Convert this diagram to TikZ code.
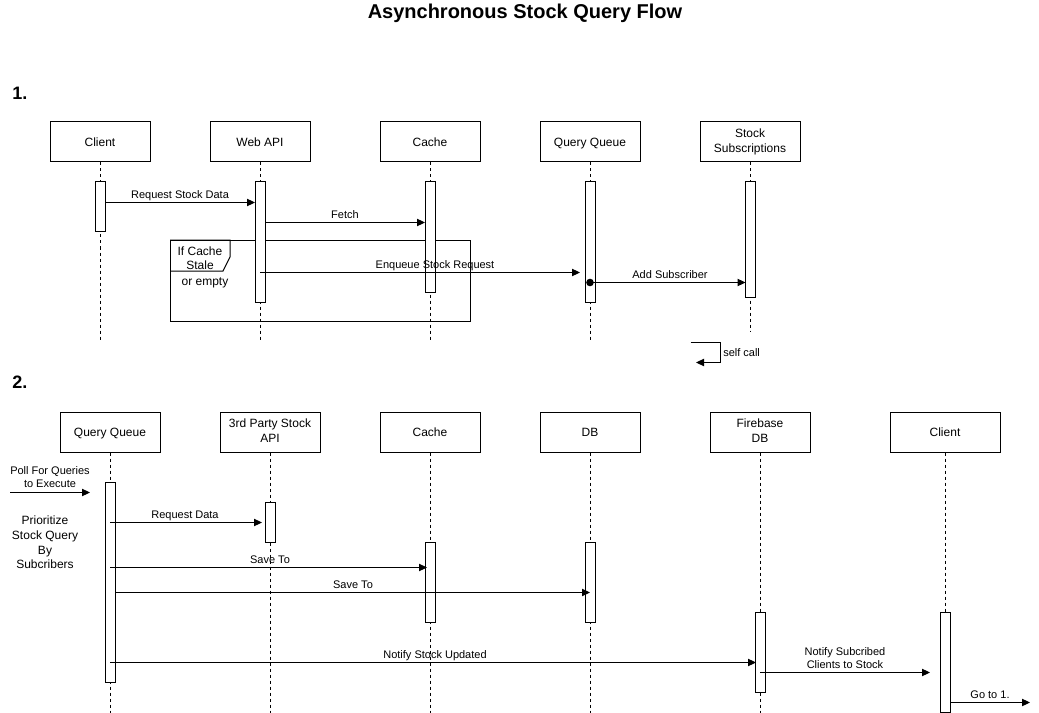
\documentclass[tikz,border=0pt]{standalone}
\usepackage{fontspec}
\setmainfont{Liberation Sans}
\usetikzlibrary{arrows.meta}
\tikzset{
  part/.style={draw, line width=0.75pt, fill=white, minimum width=75pt, minimum height=30pt, inner sep=0pt, align=center, font=\fontsize{9}{11}\selectfont},
  act/.style={draw, line width=0.75pt, fill=white, minimum width=7.5pt, inner sep=0pt},
  life/.style={line width=0.75pt, dash pattern=on 2.25pt off 2.25pt},
  msg/.style={line width=0.75pt, -{Triangle[length=6pt,width=5.5pt]}},
  lbl/.style={font=\fontsize{8.25}{9.75}\selectfont, align=center, inner sep=0pt},
  sl/.style={text height=0.905em, text depth=0.212em},
  ml/.style={yshift=-0.9pt},
  heading/.style={font=\fontsize{13.5}{16}\selectfont\bfseries, inner sep=0pt},
  frm/.style={line width=0.75pt}
}
\begin{document}
\begin{tikzpicture}[x=0.75pt,y=-0.75pt]
\path[use as bounding box, fill=white] (0,0) rectangle (1039,713);

\node[font=\fontsize{15}{18}\selectfont\bfseries, inner sep=0pt, sl] (title) at (525,13.5) {Asynchronous Stock Query Flow};
\node[heading, anchor=west] (h1) at (12,93) {1.};
\node[heading, anchor=west] (h2) at (12,382.5) {2.};

% ---------- Part 1 ----------
\node[part, sl] (aclient) at (100,142) {Client};
\node[part, sl] (aweb) at (260,142) {Web API};
\node[part, sl] (acache) at (430,142) {Cache};
\node[part, sl] (aqueue) at (590,142) {Query Queue};
\node[part] (asubs) at (750,142) {\vphantom{Stpj}Stock\\Subscriptions};

\coordinate (aclientE) at (100,340);
\coordinate (awebE) at (260,340);
\coordinate (acacheE) at (430,340);
\coordinate (aqueueE) at (590,340);
\coordinate (asubsE) at (750,332);
\draw[life] (aclient.south) -- (aclientE);
\draw[life] (aweb.south) -- (awebE);
\draw[life] (acache.south) -- (acacheE);
\draw[life] (aqueue.south) -- (aqueueE);
\draw[life] (asubs.south) -- (asubsE);

% frame
\draw[frm] (170,240) rectangle (470,321);
\draw[frm] (170,240) -- (230,240) -- (230,257) -- (223,271) -- (170,271);
\node[lbl, font=\fontsize{9}{11}\selectfont, ml] (ftitle) at (200,257) {If Cache\\Stale};
\node[lbl, font=\fontsize{9}{11}\selectfont, sl] (fsub) at (205,281) {or empty};

% activations
\node[act, minimum height=37.5pt] (xclient) at (100,207) {};
\node[act, minimum height=90pt] (xweb) at (260,242) {};
\node[act, minimum height=82.5pt] (xcache) at (430,237) {};
\node[act, minimum height=90pt] (xqueue) at (590,242) {};
\node[act, minimum height=86.25pt] (xsubs) at (750,239.5) {};

% messages
\coordinate (m1s) at (105,202.5); \coordinate (m1e) at (255,202.5);
\draw[msg] (m1s) -- (m1e);
\node[lbl, sl] (l1) at (180,193.5) {Request Stock Data};

\coordinate (m2s) at (265,222.5); \coordinate (m2e) at (425,222.5);
\draw[msg] (m2s) -- (m2e);
\node[lbl, sl] (l2) at (345,213.5) {Fetch};

\coordinate (m3s) at (260,272.5); \coordinate (m3e) at (580,272.5);
\draw[msg] (m3s) -- (m3e);
\node[lbl, sl] (l3) at (435,263.5) {Enqueue Stock Request};

\coordinate (m4s) at (590,282.5); \coordinate (m4e) at (745.5,282.5);
\fill (m4s) circle[radius=3.8];
\draw[msg] (m4s) -- (m4e);
\node[lbl, sl] (l4) at (670,273.5) {Add Subscriber};

% self call
\coordinate (scs) at (690.5,342.5); \coordinate (sca) at (720,342.5); \coordinate (scb) at (720,362.5); \coordinate (sce) at (696,362.5);
\draw[msg] (scs) -- (sca) -- (scb) -- (sce);
\node[lbl, sl, anchor=west] (lsc) at (723,351.5) {self call};

% ---------- Part 2 ----------
\node[part, sl] (bqueue) at (110,432) {Query Queue};
\node[part] (bapi) at (270,432) {\vphantom{Stpj}3rd Party Stock\\API\vphantom{pj}};
\node[part, sl] (bcache) at (430,432) {Cache};
\node[part, sl] (bdb) at (590,432) {DB};
\node[part] (bfire) at (760,432) {\vphantom{Stpj}Firebase\\DB\vphantom{pj}};
\node[part, sl, minimum width=82.5pt] (bclient) at (945,432) {Client};

\coordinate (bqueueE) at (110,713);
\coordinate (bapiE) at (270,713);
\coordinate (bcacheE) at (430,713);
\coordinate (bdbE) at (590,713);
\coordinate (bfireE) at (760,713);
\coordinate (bclientE) at (945,713);
\draw[life] (bqueue.south) -- (bqueueE);
\draw[life] (bapi.south) -- (bapiE);
\draw[life] (bcache.south) -- (bcacheE);
\draw[life] (bdb.south) -- (bdbE);
\draw[life] (bfire.south) -- (bfireE);
\draw[life] (bclient.south) -- (bclientE);

\node[act, minimum height=150pt] (yqueue) at (110,582.5) {};
\node[act, minimum height=30pt] (yapi) at (270,522.5) {};
\node[act, minimum height=60pt] (ycache) at (430,582.5) {};
\node[act, minimum height=60pt] (ydb) at (590,582.5) {};
\node[act, minimum height=60pt] (yfire) at (760,652.5) {};
\node[act, minimum height=75pt] (yclient) at (945,662.5) {};

\coordinate (pollS) at (10,492.5); \coordinate (pollE) at (90,492.5);
\draw[msg] (pollS) -- (pollE);
\node[lbl] (lpoll) at (50,477.5) {Poll For Queries\\to Execute};
\node[lbl, font=\fontsize{9}{11}\selectfont] (lprio) at (45,542.5) {Prioritize\\Stock Query\\By\\Subcribers};

\coordinate (n1s) at (110,522.5); \coordinate (n1e) at (262,522.5);
\draw[msg] (n1s) -- (n1e);
\node[lbl, sl] (ln1) at (185,513.5) {Request Data};

\coordinate (n2s) at (110,567.5); \coordinate (n2e) at (427,567.5);
\draw[msg] (n2s) -- (n2e);
\node[lbl, sl] (ln2) at (270,558.5) {Save To};

\coordinate (n3s) at (116,592.5); \coordinate (n3e) at (590,592.5);
\draw[msg] (n3s) -- (n3e);
\node[lbl, sl] (ln3) at (353,583.5) {Save To};

\coordinate (n4s) at (110,662.5); \coordinate (n4e) at (756,662.5);
\draw[msg] (n4s) -- (n4e);
\node[lbl, sl] (ln4) at (435,653.5) {Notify Stock Updated};

\coordinate (n5s) at (760,672.5); \coordinate (n5e) at (930,672.5);
\draw[msg] (n5s) -- (n5e);
\node[lbl, ml] (ln5) at (845,656.5) {Notify Subcribed\\Clients to Stock};

\coordinate (n6s) at (950,702.5); \coordinate (n6e) at (1030,702.5);
\draw[msg] (n6s) -- (n6e);
\node[lbl, sl] (ln6) at (990,693.5) {Go to 1.};
\end{tikzpicture}
\end{document}
